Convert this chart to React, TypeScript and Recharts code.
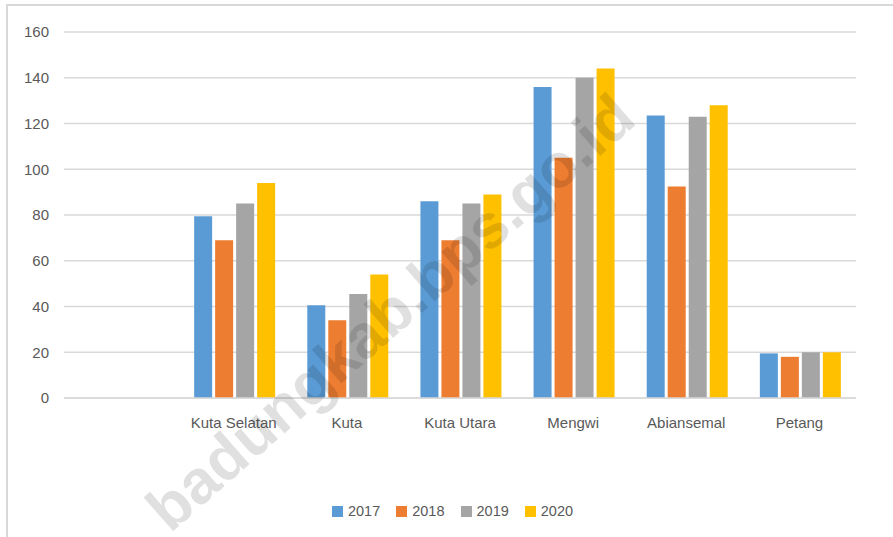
import { BarChart, Bar, XAxis, YAxis, CartesianGrid, Legend } from "recharts";

// Kecamatan (first slot is empty in the original chart)
const categories = ["", "Kuta Selatan", "Kuta", "Kuta Utara", "Mengwi", "Abiansemal", "Petang"];

const v2017 = [null, 79.5, 40.5, 86, 136, 123.5, 19.5];
const v2018 = [null, 69, 34, 69, 105, 92.5, 18];
const v2019 = [null, 85, 45.5, 85, 140, 123, 20];
const v2020 = [null, 94, 54, 89, 144, 128, 20];

const yTicks = [0, 20, 40, 60, 80, 100, 120, 140, 160];

const SERIES = [
  { key: "2017", color: "#5B9BD5" },
  { key: "2018", color: "#ED7D31" },
  { key: "2019", color: "#A5A5A5" },
  { key: "2020", color: "#FFC000" },
];

const data = categories.map((name, i) => ({
  name,
  "2017": v2017[i],
  "2018": v2018[i],
  "2019": v2019[i],
  "2020": v2020[i],
}));

const FONT = "'Liberation Sans', Arial, sans-serif";
const TEXT = "#595959";

function LegendContent() {
  return (
    <div style={{ display: "flex", justifyContent: "center", paddingLeft: 12, fontFamily: FONT, fontSize: 14.5, color: TEXT }}>
      {SERIES.map((s, i) => (
        <div key={s.key} style={{ display: "flex", alignItems: "center", marginRight: i < SERIES.length - 1 ? 16 : 0 }}>
          <span style={{ width: 11, height: 11, background: s.color, display: "inline-block", marginRight: 5 }} />
          <span>{s.key}</span>
        </div>
      ))}
    </div>
  );
}

export default function App() {
  return (
    <div style={{ position: "absolute", left: 0, top: 0, width: 893, height: 537, background: "#fff", overflow: "hidden" }}>
      <div
        style={{
          position: "absolute", left: 6, top: 4, width: 900, height: 540,
          borderTop: "2px solid #D9D9D9", borderLeft: "2px solid #D9D9D9",
        }}
      />
      <BarChart
        width={893}
        height={537}
        data={data}
        margin={{ top: 32, right: 37, left: 0, bottom: 109 }}
        barCategoryGap={17}
        barGap={3}
      >
        <CartesianGrid vertical={false} stroke="#D9D9D9" strokeWidth={1.5} />
        <XAxis
          dataKey="name"
          height={30}
          tickLine={false}
          axisLine={{ stroke: "#D9D9D9", strokeWidth: 1.5 }}
          tickMargin={13}
          interval={0}
          tick={{ fontSize: 15, fill: TEXT, fontFamily: FONT }}
        />
        <YAxis
          width={64}
          domain={[0, 160]}
          ticks={yTicks}
          axisLine={false}
          tickLine={false}
          tickMargin={9}
          tick={{ fontSize: 15, fill: TEXT, fontFamily: FONT }}
        />
        <Legend
          verticalAlign="middle"
          align="center"
          layout="horizontal"
          content={<LegendContent />}
          wrapperStyle={{ top: 503, left: 0, width: 893 }}
        />
        {SERIES.map((s) => (
          <Bar key={s.key} dataKey={s.key} fill={s.color} isAnimationActive={false} />
        ))}
      </BarChart>
      <div
        style={{
          position: "absolute", left: 390, top: 312, pointerEvents: "none",
          transform: "translate(-50%, -50%) rotate(-41.3deg)",
          fontFamily: FONT, fontWeight: "bold", fontSize: 62,
          color: "rgba(0,0,0,0.12)", whiteSpace: "nowrap",
        }}
      >
        badungkab.bps.go.id
      </div>
    </div>
  );
}
